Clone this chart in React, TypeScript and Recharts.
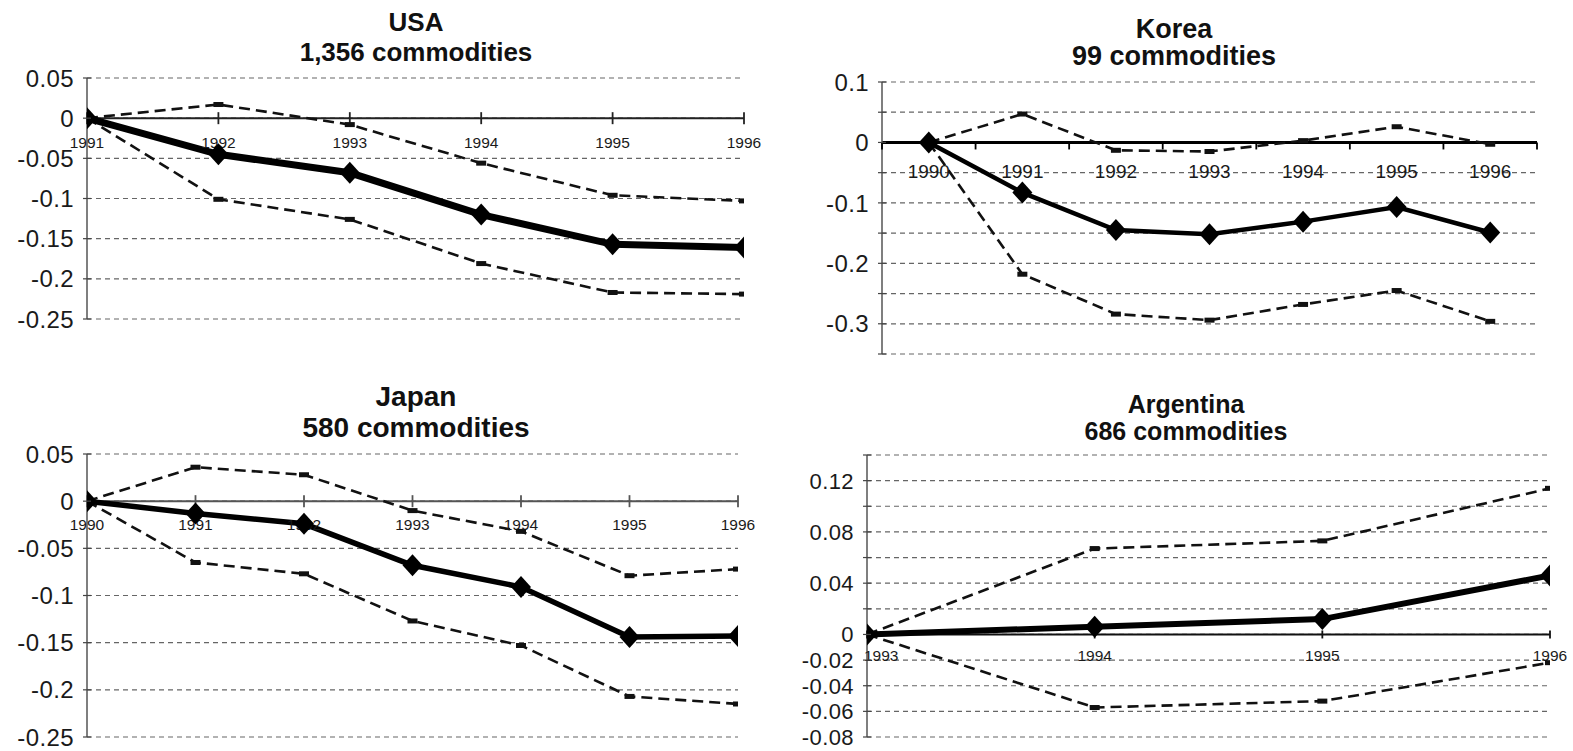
import React from 'react';
import { LineChart, Line, XAxis, YAxis, CartesianGrid, ReferenceLine, ReferenceDot } from 'recharts';

const FONT = '"Liberation Sans", Arial, Helvetica, sans-serif';

// ---------- USA ----------
const usaYears = [1991, 1992, 1993, 1994, 1995, 1996];
const usaMean = [0, -0.045, -0.068, -0.12, -0.157, -0.161];
const usaUpper = [0, 0.017, -0.008, -0.056, -0.096, -0.103];
const usaLower = [0, -0.101, -0.126, -0.181, -0.217, -0.219];
const usaYTicks = [0.05, 0, -0.05, -0.1, -0.15, -0.2, -0.25];
const usaYLabels = ['0.05', '0', '-0.05', '-0.1', '-0.15', '-0.2', '-0.25'];

// ---------- Korea ----------
const korYears = [1990, 1991, 1992, 1993, 1994, 1995, 1996];
const korMean = [0, -0.083, -0.145, -0.152, -0.131, -0.107, -0.149];
const korUpper = [0, 0.047, -0.013, -0.015, 0.003, 0.026, -0.003];
const korLower = [0, -0.218, -0.284, -0.294, -0.268, -0.245, -0.296];
const korYTicks = [0.1, 0.05, 0, -0.05, -0.1, -0.15, -0.2, -0.25, -0.3, -0.35];
const korYLabels = ['0.1', '', '0', '', '-0.1', '', '-0.2', '', '-0.3', ''];
const korBoundaries = [1989.5, 1990.5, 1991.5, 1992.5, 1993.5, 1994.5, 1995.5, 1996.5];

// ---------- Japan ----------
const jpnYears = [1990, 1991, 1992, 1993, 1994, 1995, 1996];
const jpnMean = [0, -0.013, -0.024, -0.068, -0.091, -0.144, -0.143];
const jpnUpper = [0, 0.036, 0.028, -0.01, -0.032, -0.079, -0.072];
const jpnLower = [0, -0.065, -0.077, -0.127, -0.153, -0.207, -0.215];
const jpnYTicks = [0.05, 0, -0.05, -0.1, -0.15, -0.2, -0.25];
const jpnYLabels = ['0.05', '0', '-0.05', '-0.1', '-0.15', '-0.2', '-0.25'];

// ---------- Argentina ----------
const argYears = [1993, 1994, 1995, 1996];
const argMean = [0, 0.006, 0.012, 0.046];
const argUpper = [0, 0.067, 0.073, 0.114];
const argLower = [0, -0.057, -0.052, -0.022];
const argYTicks = [0.14, 0.12, 0.1, 0.08, 0.06, 0.04, 0.02, 0, -0.02, -0.04, -0.06, -0.08];
const argYLabels = ['', '0.12', '', '0.08', '', '0.04', '', '0', '-0.02', '-0.04', '-0.06', '-0.08'];

type PanelProps = {
  years: number[];
  mean: number[];
  upper: number[];
  lower: number[];
  yTicks: number[];
  yLabels: string[];
  xDomain: [number, number];
  boundaries?: number[];
  plot: { l: number; t: number; r: number; b: number };
  yFont: number;
  xFont: number;
  xLabelGap: number;
  mainWidth: number;
  axisColor: string;
  axisWidth: number;
  crossTicks: boolean;
  tickHalf: number;
  firstLabelStart?: boolean;
};

const YW = 86;
const MT = 14;
const MB = 20;
const MR = 22;

function diamond(cx: number, cy: number, rx: number, ry: number) {
  return `M${cx},${cy - ry} L${cx + rx},${cy} L${cx},${cy + ry} L${cx - rx},${cy} Z`;
}

function Panel(p: PanelProps) {
  const data = p.years.map((y, i) => ({ year: y, mean: p.mean[i], upper: p.upper[i], lower: p.lower[i] }));
  const w = YW + (p.plot.r - p.plot.l) + MR;
  const h = MT + (p.plot.b - p.plot.t) + MB;
  const yDomain: [number, number] = [p.yTicks[p.yTicks.length - 1], p.yTicks[0]];

  const YTick = (props: any) => {
    const { x, y, index } = props;
    const label = p.yLabels[index] ?? '';
    return (
      <g>
        <line x1={x - 4} x2={x + 4} y1={y} y2={y} stroke="#444" strokeWidth={1.2} />
        {label !== '' && (
          <text
            x={x - 13}
            y={y}
            dy="0.36em"
            textAnchor="end"
            fontSize={p.yFont}
            fontFamily={FONT}
            letterSpacing={0.4}
            fill="#1a1a1a"
          >
            {label}
          </text>
        )}
      </g>
    );
  };

  const tickMarks = p.boundaries ?? p.years;

  return (
    <div style={{ position: 'absolute', left: p.plot.l - YW, top: p.plot.t - MT }}>
      <LineChart width={w} height={h} data={data} margin={{ top: MT, right: MR, bottom: MB, left: 0 }}>
        <CartesianGrid vertical={false} stroke="#666" strokeDasharray="5 4" strokeWidth={1.2} />
        <XAxis type="number" dataKey="year" domain={p.xDomain} hide height={0} allowDataOverflow />
        <YAxis
          type="number"
          domain={yDomain}
          ticks={p.yTicks}
          interval={0}
          width={YW}
          tickSize={0}
          tickMargin={0}
          tickLine={false}
          axisLine={{ stroke: '#555', strokeWidth: 1.5 }}
          tick={YTick}
          allowDataOverflow
        />
        <ReferenceLine y={0} stroke={p.axisColor} strokeWidth={p.axisWidth} ifOverflow="extendDomain" />
        {tickMarks.map((v) => (
          <ReferenceDot
            key={'t' + v}
            x={v}
            y={0}
            r={0}
            ifOverflow="visible"
            shape={(sp: any) => (
              <line
                x1={sp.cx}
                x2={sp.cx}
                y1={p.crossTicks ? sp.cy - p.tickHalf : sp.cy}
                y2={sp.cy + p.tickHalf}
                stroke={p.axisColor}
                strokeWidth={1.8}
              />
            )}
          />
        ))}
        {p.years.map((v, i) => (
          <ReferenceDot
            key={'l' + v}
            x={v}
            y={0}
            r={0}
            ifOverflow="visible"
            shape={(sp: any) => {
              const start = p.firstLabelStart && i === 0;
              return (
                <text
                  x={start ? sp.cx - 3 : sp.cx}
                  y={sp.cy + p.xLabelGap}
                  dy="0.36em"
                  textAnchor={start ? 'start' : 'middle'}
                  fontSize={p.xFont}
                  fontFamily={FONT}
                  fill="#1a1a1a"
                >
                  {String(v)}
                </text>
              );
            }}
          />
        ))}
        <Line
          dataKey="upper"
          stroke="#111"
          strokeWidth={2.6}
          strokeDasharray="11 6"
          isAnimationActive={false}
          dot={(dp: any) => (
            <rect key={'u' + dp.index} x={dp.cx - 5} y={dp.cy - 2.5} width={10} height={5} fill="#111" />
          )}
        />
        <Line
          dataKey="lower"
          stroke="#111"
          strokeWidth={2.6}
          strokeDasharray="11 6"
          isAnimationActive={false}
          dot={(dp: any) => (
            <rect key={'d' + dp.index} x={dp.cx - 5} y={dp.cy - 2.5} width={10} height={5} fill="#111" />
          )}
        />
        <Line
          dataKey="mean"
          stroke="#000"
          strokeWidth={p.mainWidth}
          isAnimationActive={false}
          dot={(dp: any) => <path key={'m' + dp.index} d={diamond(dp.cx, dp.cy, 10, 11)} fill="#000" />}
        />
      </LineChart>
    </div>
  );
}

function Title({ cx, top, lh, size, lines }: { cx: number; top: number; lh: number; size: number; lines: string[] }) {
  return (
    <div
      style={{
        position: 'absolute',
        left: cx - 300,
        top,
        width: 600,
        textAlign: 'center',
        fontFamily: FONT,
        fontWeight: 'bold',
        fontSize: size,
        lineHeight: lh + 'px',
        color: '#111',
      }}
    >
      {lines.map((t) => (
        <div key={t}>{t}</div>
      ))}
    </div>
  );
}

export default function App() {
  return (
    <div style={{ position: 'absolute', left: 0, top: 0, width: 1573, height: 751, overflow: 'hidden', background: '#fff' }}>
      <Title cx={416} top={7} lh={30} size={26} lines={['USA', '1,356 commodities']} />
      <Title cx={1174} top={16} lh={27} size={27} lines={['Korea', '99 commodities']} />
      <Title cx={416} top={381} lh={31} size={28} lines={['Japan', '580 commodities']} />
      <Title cx={1186} top={391} lh={27} size={25} lines={['Argentina', '686 commodities']} />

      <Panel
        years={usaYears}
        mean={usaMean}
        upper={usaUpper}
        lower={usaLower}
        yTicks={usaYTicks}
        yLabels={usaYLabels}
        xDomain={[1991, 1996]}
        plot={{ l: 87, t: 78, r: 744, b: 319 }}
        yFont={24}
        xFont={15.5}
        xLabelGap={24}
        mainWidth={7}
        axisColor="#222"
        axisWidth={2}
        crossTicks={true}
        tickHalf={6}
      />
      <Panel
        years={korYears}
        mean={korMean}
        upper={korUpper}
        lower={korLower}
        yTicks={korYTicks}
        yLabels={korYLabels}
        xDomain={[1989.5, 1996.5]}
        boundaries={korBoundaries}
        plot={{ l: 882, t: 82, r: 1537, b: 354 }}
        yFont={24}
        xFont={19}
        xLabelGap={29}
        mainWidth={4.5}
        axisColor="#000"
        axisWidth={3}
        crossTicks={false}
        tickHalf={7}
      />
      <Panel
        years={jpnYears}
        mean={jpnMean}
        upper={jpnUpper}
        lower={jpnLower}
        yTicks={jpnYTicks}
        yLabels={jpnYLabels}
        xDomain={[1990, 1996]}
        plot={{ l: 87, t: 454, r: 738, b: 737 }}
        yFont={24}
        xFont={15.5}
        xLabelGap={23}
        mainWidth={5.5}
        axisColor="#555"
        axisWidth={2}
        crossTicks={true}
        tickHalf={6}
      />
      <Panel
        years={argYears}
        mean={argMean}
        upper={argUpper}
        lower={argLower}
        yTicks={argYTicks}
        yLabels={argYLabels}
        xDomain={[1993, 1996]}
        plot={{ l: 867, t: 455, r: 1550, b: 737 }}
        yFont={22}
        xFont={15.5}
        xLabelGap={21}
        mainWidth={6}
        axisColor="#111"
        axisWidth={2}
        crossTicks={true}
        tickHalf={4}
        firstLabelStart={true}
      />
    </div>
  );
}
